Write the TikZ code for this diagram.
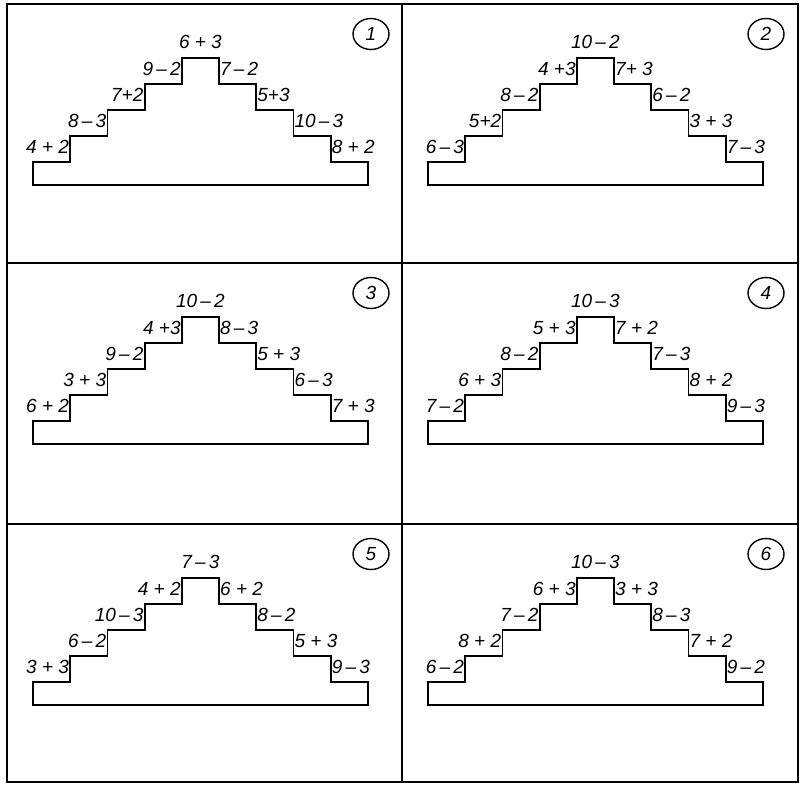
\documentclass[tikz,border=0pt]{standalone}
\usepackage{fontspec}
\setsansfont{Liberation Sans}
\usetikzlibrary{shapes.geometric}

% one staircase panel: #1 top label, #2-#5 left labels (bottom to top),
% #6-#9 right labels (top to bottom); node names use the prefix \pfx
\newcommand\stairs[9]{%
  \draw[stair] (26,181) -- (26,158) -- (63.2,158) -- (63.2,132) -- (100.4,132)
    -- (100.4,106) -- (137.6,106) -- (137.6,80) -- (174.8,80) -- (174.8,54)
    -- (212,54) -- (212,80) -- (249.2,80) -- (249.2,106) -- (286.4,106)
    -- (286.4,132) -- (323.6,132) -- (323.6,158) -- (360.8,158) -- (360.8,181)
    -- cycle;
  \node[lbl] (\pfx-top) at (193.4,38) {#1};
  \node[lbl,anchor=east] (\pfx-l1) at (63.2,143) {#2};
  \node[lbl,anchor=east] (\pfx-l2) at (100.4,117) {#3};
  \node[lbl,anchor=east] (\pfx-l3) at (137.6,91) {#4};
  \node[lbl,anchor=east] (\pfx-l4) at (174.8,65) {#5};
  \node[lbl,anchor=west] (\pfx-r1) at (212,65) {#6};
  \node[lbl,anchor=west] (\pfx-r2) at (249.2,91) {#7};
  \node[lbl,anchor=west] (\pfx-r3) at (286.4,117) {#8};
  \node[lbl,anchor=west] (\pfx-r4) at (323.6,143) {#9};
}
\newcommand\panelno[1]{%
  \node[numring] (\pfx-no) at (364,30) {#1};
}

\begin{document}
\begin{tikzpicture}[x=1pt,y=-1pt,
  frame/.style={line width=1.8pt, line cap=rect},
  stair/.style={line width=1.8pt, line join=miter},
  lbl/.style={font=\sffamily\itshape\fontsize{19}{21}\selectfont, inner sep=1pt},
  numring/.style={ellipse, draw, line width=1.4pt, minimum width=36pt,
    minimum height=31pt, inner sep=0pt,
    font=\sffamily\itshape\fontsize{19}{21}\selectfont}]
\useasboundingbox (0,0) rectangle (801,785);

% outer frame and grid lines
\draw[frame] (7,4) rectangle (798,782);
\draw[frame] (402,4) -- (402,782);
\draw[frame] (7,263) -- (798,263);
\draw[frame] (7,524) -- (798,524);

\begin{scope}[shift={(7,4)}]
  \def\pfx{p1}
  \stairs{6 + 3}{4 + 2}{8\,–\,3}{7+2}{9\,–\,2}{7\,–\,2}{5+3}{10\,–\,3}{8 + 2}
  \panelno{1}
\end{scope}

\begin{scope}[shift={(402,4)}]
  \def\pfx{p2}
  \stairs{10\,–\,2}{6\,–\,3}{5+2}{8\,–\,2}{4 +3}{7+ 3}{6\,–\,2}{3 + 3}{7\,–\,3}
  \panelno{2}
\end{scope}

\begin{scope}[shift={(7,263)}]
  \def\pfx{p3}
  \stairs{10\,–\,2}{6 + 2}{3 + 3}{9\,–\,2}{4 +3}{8\,–\,3}{5 + 3}{6\,–\,3}{7 + 3}
  \panelno{3}
\end{scope}

\begin{scope}[shift={(402,263)}]
  \def\pfx{p4}
  \stairs{10\,–\,3}{7\,–\,2}{6 + 3}{8\,–\,2}{5 + 3}{7 + 2}{7\,–\,3}{8 + 2}{9\,–\,3}
  \panelno{4}
\end{scope}

\begin{scope}[shift={(7,524)}]
  \def\pfx{p5}
  \stairs{7\,–\,3}{3 + 3}{6\,–\,2}{10\,–\,3}{4 + 2}{6 + 2}{8\,–\,2}{5 + 3}{9\,–\,3}
  \panelno{5}
\end{scope}

\begin{scope}[shift={(402,524)}]
  \def\pfx{p6}
  \stairs{10\,–\,3}{6\,–\,2}{8 + 2}{7\,–\,2}{6 + 3}{3 + 3}{8\,–\,3}{7 + 2}{9\,–\,2}
  \panelno{6}
\end{scope}
\end{tikzpicture}
\end{document}
